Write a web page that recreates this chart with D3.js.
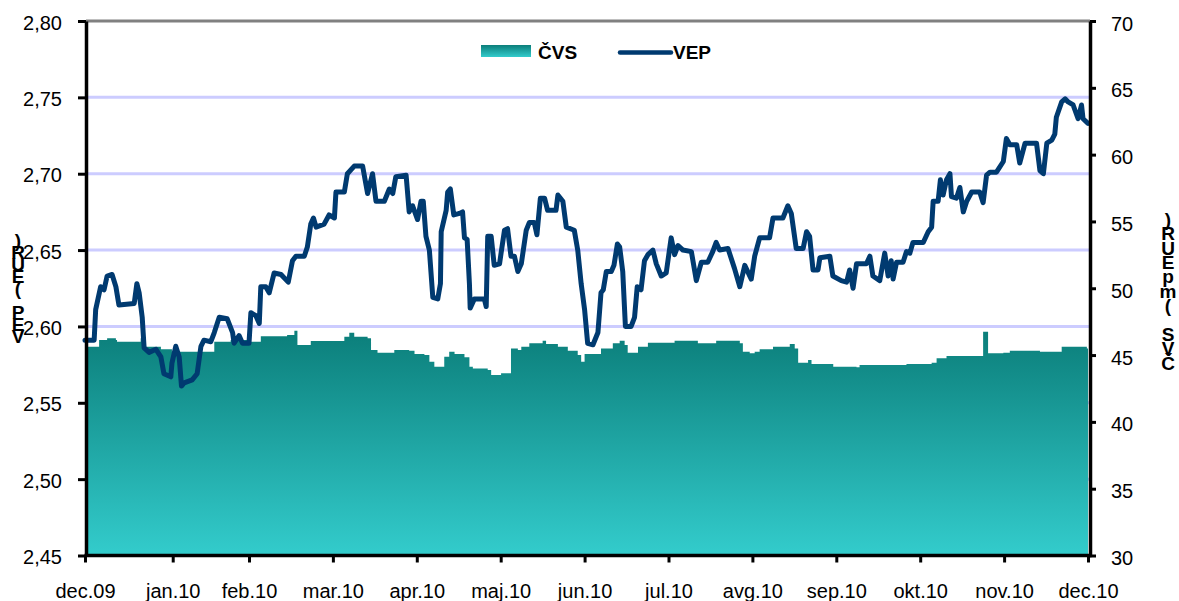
<!DOCTYPE html>
<html>
<head>
<meta charset="utf-8">
<script src="https://cdn.jsdelivr.net/npm/d3@7"></script>
<style>
  body { margin: 0; background: #fff; }
  svg { font-family: "Liberation Sans", Arial, sans-serif; }
  .vtitle { writing-mode: vertical-rl; text-orientation: upright; }
</style>
</head>
<body>
<div id="chart"></div>
<script>
// month labels on the category axis, and trading days in each month
var monthLabels = ["dec.09", "jan.10", "feb.10", "mar.10", "apr.10", "maj.10", "jun.10",
                   "jul.10", "avg.10", "sep.10", "okt.10", "nov.10", "dec.10"];
var monthDays = [23, 20, 22, 22, 22, 22, 22, 22, 22, 22, 22, 22];

var leftTicks = [2.45, 2.50, 2.55, 2.60, 2.65, 2.70, 2.75, 2.80];
var rightTicks = [30, 35, 40, 45, 50, 55, 60, 65, 70];

// VEP (EUR), [trading day, value]
var vepPoints = [
  [0,2.591],[2.4,2.591],[2.8,2.611],[4.1,2.626],[5.0,2.624],[5.8,2.633],[7.1,2.634],[8.1,2.626],
  [8.9,2.614],[12.9,2.615],[13.6,2.628],[14.2,2.622],[15.0,2.606],[15.5,2.586],[16.8,2.583],
  [18.6,2.585],[19.9,2.580],[20.7,2.569],[22.5,2.567],[22.8,2.576],[23.8,2.587],[24.7,2.580],
  [25.3,2.561],[26.0,2.563],[28.1,2.565],[29.4,2.569],[30.4,2.587],[31.2,2.591],[33.0,2.590],
  [33.9,2.596],[35.2,2.606],[37.3,2.605],[38.7,2.596],[39.1,2.589],[40.4,2.594],[41.3,2.589],
  [43.0,2.589],[43.5,2.609],[44.8,2.607],[45.7,2.602],[46.1,2.626],[47.4,2.626],[48.3,2.622],
  [49.6,2.635],[51.4,2.634],[53.3,2.629],[54.4,2.643],[55.3,2.646],[57.5,2.646],[58.3,2.652],
  [59.2,2.667],[59.9,2.671],[60.6,2.665],[62.7,2.667],[64.0,2.673],[65.4,2.671],[65.8,2.688],
  [68.0,2.688],[68.8,2.700],[70.6,2.705],[72.8,2.705],[74.1,2.687],[75.4,2.700],[76.3,2.682],
  [78.5,2.682],[79.8,2.690],[80.7,2.687],[81.5,2.698],[84.2,2.699],[85.0,2.675],[85.9,2.679],
  [87.2,2.670],[88.1,2.682],[88.7,2.682],[89.4,2.659],[90.3,2.650],[91.2,2.619],[92.5,2.618],
  [93.2,2.628],[93.4,2.662],[94.7,2.676],[95.1,2.688],[95.8,2.690],[96.7,2.673],[98.2,2.674],
  [99.0,2.675],[99.5,2.658],[100.2,2.657],[100.8,2.628],[101.0,2.612],[102.1,2.618],[104.7,2.618],
  [105.2,2.613],[105.6,2.659],[106.5,2.659],[107.3,2.640],[108.7,2.641],[109.1,2.648],[110.0,2.663],
  [110.8,2.664],[111.7,2.646],[112.6,2.646],[113.5,2.636],[114.4,2.641],[115.7,2.663],[116.5,2.668],
  [117.8,2.668],[118.5,2.660],[119.4,2.684],[120.5,2.684],[121.3,2.676],[123.5,2.676],[124.0,2.686],
  [125.3,2.682],[126.2,2.665],[128.3,2.663],[129.2,2.650],[130.1,2.628],[131.0,2.611],[131.8,2.589],
  [133.2,2.588],[134.5,2.596],[135.3,2.622],[135.9,2.624],[136.7,2.636],[138.0,2.636],[138.7,2.640],
  [139.6,2.654],[140.2,2.652],[141.0,2.636],[141.7,2.600],[143.2,2.600],[144.1,2.606],[144.8,2.626],
  [145.8,2.624],[146.7,2.643],[147.6,2.647],[148.9,2.650],[149.8,2.641],[151.1,2.633],[152.4,2.635],
  [153.7,2.658],[154.6,2.647],[155.5,2.653],[156.8,2.650],[159.0,2.649],[160.3,2.630],[161.6,2.642],
  [163.3,2.642],[164.6,2.649],[165.5,2.655],[166.4,2.650],[168.6,2.651],[170.3,2.638],[171.7,2.626],
  [173.0,2.640],[174.7,2.631],[175.6,2.646],[176.9,2.658],[179.5,2.658],[180.4,2.671],[183.0,2.671],
  [184.3,2.679],[185.2,2.674],[186.5,2.651],[188.3,2.651],[189.2,2.662],[190.0,2.659],[190.9,2.637],
  [192.2,2.637],[192.7,2.645],[195.3,2.646],[196.1,2.633],[198.3,2.630],[199.7,2.629],[200.5,2.637],
  [201.4,2.625],[202.3,2.641],[204.9,2.641],[205.8,2.646],[206.6,2.633],[208.4,2.630],[209.7,2.648],
  [210.6,2.633],[211.4,2.643],[211.9,2.631],[212.8,2.642],[214.5,2.642],[215.4,2.649],[216.3,2.648],
  [217.1,2.655],[219.8,2.655],[221.1,2.662],[222.0,2.665],[222.4,2.682],[223.7,2.682],[224.3,2.696],
  [225.0,2.686],[225.9,2.696],[226.8,2.700],[227.2,2.685],[228.5,2.684],[229.4,2.691],[230.3,2.675],
  [231.2,2.682],[232.5,2.688],[234.6,2.688],[235.5,2.681],[236.4,2.699],[237.3,2.701],[239.0,2.701],
  [240.8,2.708],[241.6,2.723],[242.5,2.719],[244.3,2.719],[245.1,2.707],[246.5,2.720],[249.5,2.720],
  [250.4,2.702],[251.3,2.700],[252.2,2.720],[253.5,2.722],[254.3,2.726],[254.7,2.737],[256.1,2.747],
  [257.0,2.749],[257.8,2.747],[259.1,2.745],[260.4,2.736],[261.3,2.745],[261.7,2.736],[263.0,2.733]
];

// ČVS (mEUR), [trading day, value]
var cvsPoints = [
  [0,45.62],[1.6,45.62],[3.7,46.13],[5.8,46.25],[8.1,46.13],[8.4,46.0],[14.2,46.0],[14.6,46.25],
  [15.5,45.62],[19.9,45.43],[22.8,45.25],[33.0,45.25],[33.9,46.0],[38.2,46.13],[42.6,46.0],
  [46.1,46.4],[53.0,46.5],[54.9,46.82],[55.7,45.75],[59.2,46.05],[68.0,46.37],[69.3,46.67],
  [70.6,46.37],[74.1,46.25],[75.0,45.38],[76.7,45.17],[81.1,45.38],[85.0,45.33],[86.4,45.08],
  [89.0,45.0],[90.3,44.5],[91.6,44.13],[94.2,44.88],[95.5,45.25],[96.9,45.08],[99.5,44.83],
  [100.8,44.13],[101.7,44.0],[105.6,43.88],[106.5,43.5],[109.1,43.63],[111.7,45.5],[113.5,45.38],
  [114.4,45.62],[116.5,45.88],[120.0,46.07],[120.9,45.83],[124.0,45.62],[126.6,45.33],[129.2,45.0],
  [130.1,44.5],[131.0,45.08],[135.3,45.5],[138.4,45.88],[140.2,46.07],[141.5,45.75],[142.3,45.17],
  [145.0,45.62],[147.6,45.93],[154.6,46.07],[160.7,45.88],[165.5,46.07],[171.7,45.88],[172.5,45.25],
  [174.3,45.13],[175.6,45.25],[176.9,45.43],[180.4,45.62],[184.8,45.83],[186.1,45.5],[187.0,44.43],
  [189.6,44.63],[190.5,44.33],[196.2,44.13],[202.3,44.08],[203.1,44.25],[215.4,44.33],[222.0,44.43],
  [223.3,44.76],[225.9,44.93],[235.1,44.93],[235.5,46.75],[236.4,46.75],[236.8,45.13],[240.8,45.17],
  [242.5,45.32],[250.4,45.25],[256.1,45.62],[262.7,45.5],[263,45.5]
];

var width = 1179, height = 601;
var plot = {left: 86, right: 1090, top: 21, bottom: 555.5};

var monthStart = [0];
monthDays.forEach(function(d, i) { monthStart.push(monthStart[i] + d); });

var x = d3.scaleLinear().domain([0, d3.sum(monthDays)]).range([85, 1088]);
var yL = d3.scaleLinear().domain([2.45, 2.80]).range([plot.bottom, plot.top]);
var yR = d3.scaleLinear().domain([30, 70]).range([plot.bottom, plot.top]);

var comma = d3.formatLocale({decimal: ",", thousands: ".", grouping: [3], currency: ["", ""]});
var fmtL = comma.format(".2f");

var svg = d3.select("#chart").append("svg")
  .attr("width", width)
  .attr("height", height);

var defs = svg.append("defs");
var grad = defs.append("linearGradient")
  .attr("id", "cvsGrad")
  .attr("x1", 0).attr("y1", 0).attr("x2", 0).attr("y2", 1);
grad.append("stop").attr("offset", 0).attr("stop-color", "#0b7e7a");
grad.append("stop").attr("offset", 1).attr("stop-color", "#33cccc");

// gridlines
svg.append("g").selectAll("line")
  .data(leftTicks.filter(function(d) { return d > 2.45; }))
  .enter().append("line")
  .attr("x1", plot.left).attr("x2", plot.right)
  .attr("y1", function(d) { return yL(d); })
  .attr("y2", function(d) { return yL(d); })
  .attr("stroke", function(d) { return d >= 2.8 ? "#808080" : "#ccccff"; })
  .attr("stroke-width", 3);

// ČVS area
var area = d3.area()
  .x(function(d) { return x(d[0]); })
  .y0(plot.bottom)
  .y1(function(d) { return yR(d[1]); })
  .curve(d3.curveStepAfter);

svg.append("path")
  .datum(cvsPoints)
  .attr("fill", "url(#cvsGrad)")
  .attr("d", area);

// VEP line
var line = d3.line()
  .x(function(d) { return x(d[0]); })
  .y(function(d) { return yL(d[1]); });

svg.append("path")
  .datum(vepPoints)
  .attr("fill", "none")
  .attr("stroke", "#003a70")
  .attr("stroke-width", 5)
  .attr("stroke-linejoin", "round")
  .attr("stroke-linecap", "round")
  .attr("d", line);

// axes
function styleAxis(g) {
  g.select(".domain").attr("stroke", "#000").attr("stroke-width", 3.5);
  g.selectAll(".tick line").attr("stroke", "#000").attr("stroke-width", 3);
  g.selectAll(".tick text").attr("font-size", 20).attr("fill", "#000")
    .attr("font-family", "Liberation Sans, Arial, sans-serif");
}

var gL = svg.append("g")
  .attr("transform", "translate(" + plot.left + ",0)")
  .call(d3.axisLeft(yL).tickValues(leftTicks).tickFormat(fmtL)
    .tickSize(8).tickSizeOuter(0).tickPadding(16));
styleAxis(gL);
gL.selectAll(".tick text").attr("dy", "0.4em");

var gR = svg.append("g")
  .attr("transform", "translate(" + plot.right + ",0)")
  .call(d3.axisRight(yR).tickValues(rightTicks)
    .tickSize(6).tickSizeOuter(0).tickPadding(15));
styleAxis(gR);
gR.selectAll(".tick text").attr("dy", "0.45em");

var xTick = d3.scaleOrdinal().domain(monthStart).range(monthLabels);
var gB = svg.append("g")
  .attr("transform", "translate(0," + plot.bottom + ")")
  .call(d3.axisBottom(x).tickValues(monthStart)
    .tickFormat(function(d) { return xTick(d); })
    .tickSize(7).tickSizeOuter(0).tickPadding(21));
styleAxis(gB);
gB.select(".domain").attr("d", "M" + (plot.left - 1.5) + ",0H" + (plot.right + 1.5));

// stacked axis titles: upright letters, read from bottom to top
function stackedTitle(str, cx, yTop, yBottom) {
  var t = svg.append("text")
    .attr("class", "vtitle")
    .attr("font-size", 19)
    .attr("font-weight", "bold")
    .attr("text-anchor", "middle")
    .style("white-space", "pre")
    .attr("x", cx)
    .attr("y", (yTop + yBottom) / 2)
    .text(str.split("").reverse().join(""));
  var n = str.length;
  var h = t.node().getBBox().height;
  var ls = (yBottom - yTop) / (n - 1) - h / n;
  t.attr("letter-spacing", ls);
}
stackedTitle("VEP (EUR)", 18, 236, 332);
stackedTitle("ČVS (mpEUR)", 1168, 216, 360);

// legend
var legend = svg.append("g").attr("font-size", 19).attr("font-weight", "bold");
legend.append("rect")
  .attr("x", 481).attr("y", 45).attr("width", 50).attr("height", 12)
  .attr("fill", "url(#cvsGrad)");
legend.append("text").attr("x", 538).attr("y", 59).text("ČVS");
legend.append("line")
  .attr("x1", 620).attr("x2", 671).attr("y1", 52.5).attr("y2", 52.5)
  .attr("stroke", "#003a70").attr("stroke-width", 4.5).attr("stroke-linecap", "round");
legend.append("text").attr("x", 673).attr("y", 59).text("VEP");
</script>
</body>
</html>
